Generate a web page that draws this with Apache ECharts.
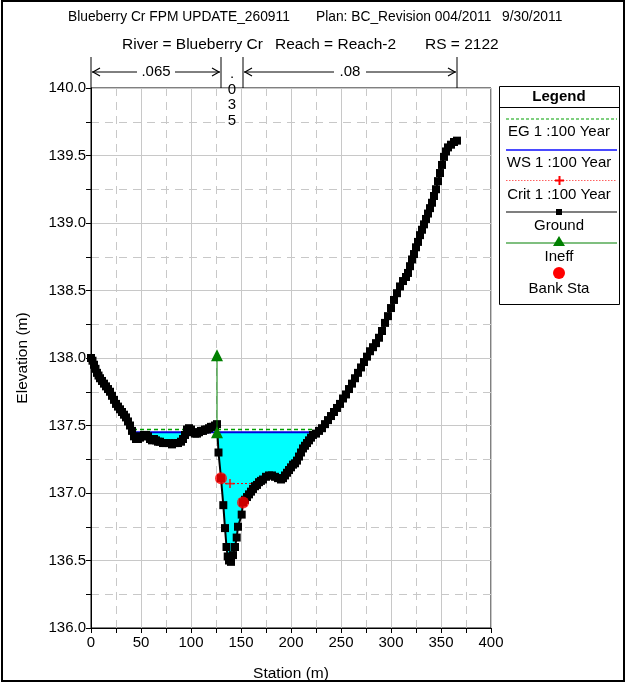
<!DOCTYPE html>
<html><head><meta charset="utf-8">
<script src="https://cdn.jsdelivr.net/npm/echarts@6/dist/echarts.min.js"></script>
<style>html,body{margin:0;padding:0;background:#fff}#c{width:626px;height:682px}</style>
</head><body><div id="c"></div>
<script>
// ---------------- data ----------------
const groundStation = [0,1.5,3,4.5,6,7.5,9,11,13,15,17,19,21,23,25,27,29,31,33,35,37,39,41,43,45,47,49,51,53,55,57,59,61,63,65,67,69,72,75,78,81,84,87,90,92,94,96,98,100,102,104,106,108,110,112,114,116,118,120,122,124,126,127.5,130,132.3,134,135.5,136.7,138,140,142,144,145.7,147,150.7,152,154,156,158,160,162,164,166,168,170,172,175,178,181,184,187,190,192,194,196,198,200,202,204,206,208,210,212,214,216,218,220,222,225,228,231,234,237,240,243,246,249,252,255,258,261,264,267,270,273,276,279,282,285,288,291,294,297,300,303,306,309,312,315,317,319,321,323,325,327,329,331,333,335,337,339,341,343,345,347,349,351,353,355,357,360,363,366];
const groundElevation = [138.00,137.98,137.95,137.92,137.89,137.87,137.85,137.83,137.81,137.79,137.77,137.75,137.72,137.69,137.66,137.64,137.62,137.60,137.58,137.56,137.53,137.50,137.46,137.42,137.40,137.40,137.41,137.42,137.43,137.43,137.42,137.40,137.39,137.40,137.39,137.38,137.38,137.37,137.37,137.37,137.36,137.37,137.37,137.38,137.40,137.43,137.47,137.48,137.47,137.45,137.44,137.44,137.45,137.46,137.46,137.47,137.47,137.48,137.49,137.49,137.50,137.51,137.30,137.11,136.91,136.74,136.60,136.53,136.50,136.49,136.54,136.60,136.67,136.75,136.84,136.93,136.95,136.97,136.99,137.01,137.03,137.05,137.06,137.08,137.09,137.10,137.12,137.13,137.13,137.12,137.11,137.10,137.11,137.13,137.15,137.17,137.19,137.21,137.22,137.24,137.27,137.30,137.33,137.35,137.37,137.39,137.41,137.43,137.44,137.46,137.48,137.51,137.54,137.57,137.60,137.63,137.66,137.70,137.73,137.77,137.81,137.85,137.89,137.93,137.97,138.01,138.05,138.08,138.11,138.15,138.20,138.26,138.31,138.37,138.43,138.48,138.53,138.57,138.60,138.63,138.68,138.73,138.77,138.82,138.86,138.91,138.95,138.99,139.03,139.07,139.11,139.15,139.20,139.25,139.31,139.37,139.43,139.49,139.53,139.56,139.58,139.60,139.61];

const wsElevation = 137.45;          // WS 1 :100 Year
const wsLimits = [42, 229];
const egElevation = 137.47;          // EG 1 :100 Year
const critElevation = 137.07;        // Crit 1 :100 Year
const critLimits = [130, 168];
const critMarkerStations = [139, 168];
const bankStations = [130, 152];
const bankElevations = [137.11, 136.93];
const ineffStation = 126;
const ineffElevations = [137.45, 138.02];
const nBreakStations = [0, 130, 152, 366];
const nValues = ['.065', '.035', '.08'];
const xRange = [0, 400], xStep = 50;
const yRange = [136, 140], yStep = 0.5;

const titleLine1 = ['Blueberry Cr FPM UPDATE_260911', 'Plan: BC_Revision 004/2011', '9/30/2011'];
const titleLine2 = ['River = Blueberry Cr', 'Reach = Reach-2', 'RS = 2122'];
const legendItems = ['EG 1 :100 Year', 'WS 1 :100 Year', 'Crit 1 :100 Year', 'Ground', 'Ineff', 'Bank Sta'];

// ---------------- chart ----------------
const FONT = '"Liberation Sans", Arial, sans-serif';
const ground = groundStation.map((s, i) => [s, groundElevation[i]]);

// water polygon built from ground and WS
const fillPoly = [[wsLimits[0], wsElevation]];
ground.forEach(p => { if (p[0] > wsLimits[0] && p[0] < wsLimits[1]) fillPoly.push([p[0], Math.min(p[1], wsElevation)]); });
fillPoly.push([wsLimits[1], wsElevation]);

const chart = echarts.init(document.getElementById('c'));
const axisCommon = {
  type: 'value',
  nameLocation: 'middle',
  nameTextStyle: { fontSize: 15.5, color: '#000', fontFamily: FONT },
  axisLine: { show: true, onZero: false, lineStyle: { color: '#000', width: 1 } },
  axisTick: { show: true, length: 5, lineStyle: { color: '#000' } },
  minorTick: { show: true, splitNumber: 2, length: 5, lineStyle: { color: '#000' } },
  axisLabel: { fontSize: 15, color: '#000', fontFamily: FONT, margin: 5 },
  splitLine: { show: true, lineStyle: { color: '#c8c8c8', width: 1 } },
  minorSplitLine: { show: true, lineStyle: { color: '#c8c8c8', width: 1, type: [8, 6] } }
};
const plus = 'path://M4,0H6V4H10V6H6V10H4V6H0V4H4Z';

const option = {
  animation: false,
  backgroundColor: '#fff',
  grid: { left: 91, right: 135, top: 88, bottom: 54, outerBoundsMode: 'none', containLabel: false, show: true, borderColor: '#000', borderWidth: 1, backgroundColor: 'transparent' },
  xAxis: Object.assign({}, axisCommon, { min: xRange[0], max: xRange[1], interval: xStep, name: 'Station (m)', nameGap: 38,
    axisLabel: Object.assign({}, axisCommon.axisLabel, { margin: 7 }) }),
  yAxis: Object.assign({}, axisCommon, { min: yRange[0], max: yRange[1], interval: yStep, name: 'Elevation (m)', nameGap: 60,
    axisLabel: Object.assign({}, axisCommon.axisLabel, { formatter: v => v.toFixed(1) }) }),
  series: [
    { type: 'custom', z: 1, silent: true, data: [[wsLimits[0], wsElevation]], encode: { x: 0, y: 1 },
      renderItem: (params, api) => ({ type: 'polygon', shape: { points: fillPoly.map(p => api.coord(p)) }, style: { fill: '#00ffff', stroke: null } }) },
    { type: 'line', z: 3, symbol: 'none', data: [[wsLimits[0], egElevation], [wsLimits[1], egElevation]], lineStyle: { color: '#00a000', width: 1.5, type: [4, 3] } },
    { type: 'line', z: 3, symbol: 'none', data: [[wsLimits[0], wsElevation], [wsLimits[1], wsElevation]], lineStyle: { color: '#0000e0', width: 2 } },
    { type: 'line', z: 3, symbol: 'none', data: [[critLimits[0], critElevation], [critLimits[1], critElevation]], lineStyle: { color: '#ff0000', width: 1, type: [2, 2] } },
    { type: 'scatter', z: 4, symbol: plus, symbolSize: 9, itemStyle: { color: '#ff0000' }, data: critMarkerStations.map(s => [s, critElevation]) },
    { type: 'line', z: 5, data: ground, symbol: 'rect', symbolSize: 8, showSymbol: true, showAllSymbol: true,
      itemStyle: { color: '#000' }, lineStyle: { color: '#000', width: 2 } },
    { type: 'line', z: 6, data: ineffElevations.map(e => [ineffStation, e]), symbol: 'triangle', symbolSize: 12,
      itemStyle: { color: '#008000' }, lineStyle: { color: '#008000', width: 1 } },
    { type: 'scatter', z: 7, symbol: 'circle', symbolSize: 12, itemStyle: { color: '#ff0000' }, data: bankStations.map((s, i) => [s, bankElevations[i]]) }
  ]
};
chart.setOption(option);

// ---------------- decorations (titles, n-values, legend) ----------------
const g = [];
const txt = (x, y, s, opt) => g.push({ type: 'text', x: x, y: y, style: Object.assign({ text: s, fill: '#000', font: '15px ' + FONT, align: 'left', verticalAlign: 'middle' }, opt || {}) });
// frame
g.push({ type: 'rect', shape: { x: 2, y: 1, width: 622, height: 680 }, style: { fill: null, stroke: '#000', lineWidth: 2 }, z: 100 });
// titles
txt(68, 17, titleLine1[0], { font: '13.8px ' + FONT });
txt(316, 17, titleLine1[1], { font: '13.8px ' + FONT });
txt(502, 17, titleLine1[2], { font: '13.8px ' + FONT });
txt(122, 45, titleLine2[0], { font: '15.5px ' + FONT });
txt(275, 45, titleLine2[1], { font: '15.5px ' + FONT });
txt(425, 45, titleLine2[2], { font: '15.5px ' + FONT });
// n values
const topY = chart.convertToPixel({ gridIndex: 0 }, [0, yRange[1]])[1];
const bx = nBreakStations.map(s => chart.convertToPixel({ gridIndex: 0 }, [s, yRange[1]])[0]);
bx.forEach(x => g.push({ type: 'line', shape: { x1: x, y1: topY - 31, x2: x, y2: topY }, style: { stroke: '#000', lineWidth: 1 } }));
const ay = topY - 16;
function arrowSpan(a, b, label, halfW) {
  const m = (a + b) / 2;
  g.push({ type: 'line', shape: { x1: a + 1, y1: ay, x2: m - halfW, y2: ay }, style: { stroke: '#000', lineWidth: 1 } });
  g.push({ type: 'line', shape: { x1: m + halfW, y1: ay, x2: b - 1, y2: ay }, style: { stroke: '#000', lineWidth: 1 } });
  g.push({ type: 'polyline', shape: { points: [[a + 9, ay - 4], [a + 2, ay], [a + 9, ay + 4]] }, style: { stroke: '#000', lineWidth: 1.2, fill: null } });
  g.push({ type: 'polyline', shape: { points: [[b - 9, ay - 4], [b - 2, ay], [b - 9, ay + 4]] }, style: { stroke: '#000', lineWidth: 1.2, fill: null } });
  txt(m, ay, label, { align: 'center' });
}
arrowSpan(bx[0], bx[1], nValues[0], 19);
arrowSpan(bx[2], bx[3], nValues[2], 16);
const midX = (bx[1] + bx[2]) / 2;
nValues[1].split('').forEach((ch, i) => txt(midX, topY - 14 + i * 15.5, ch, { align: 'center' }));
// legend box
const L = { x: 499, y: 86, w: 120, h: 218 };
const cx = L.x + L.w / 2, lx1 = L.x + 7, lx2 = L.x + L.w - 2;
g.push({ type: 'rect', shape: { x: L.x + 0.5, y: L.y + 0.5, width: L.w, height: L.h }, style: { fill: '#fff', stroke: '#000', lineWidth: 1 }, z: 50 });
g.push({ type: 'line', shape: { x1: L.x, y1: 107.5, x2: L.x + L.w, y2: 107.5 }, style: { stroke: '#000', lineWidth: 1 }, z: 51 });
const lz = 52;
const ltxt = (y, s, opt) => g.push({ type: 'text', z: lz, x: cx, y: y, style: Object.assign({ text: s, fill: '#000', font: '15px ' + FONT, align: 'center', verticalAlign: 'middle' }, opt || {}) });
ltxt(97, 'Legend', { font: 'bold 15px ' + FONT });
g.push({ type: 'line', z: lz, shape: { x1: lx1, y1: 119, x2: lx2, y2: 119 }, style: { stroke: '#00a000', lineWidth: 1.2, lineDash: [3, 2] } });
ltxt(132, legendItems[0]);
g.push({ type: 'line', z: lz, shape: { x1: lx1, y1: 150, x2: lx2, y2: 150 }, style: { stroke: '#4a4aff', lineWidth: 2 } });
ltxt(163, legendItems[1]);
g.push({ type: 'line', z: lz, shape: { x1: lx1, y1: 180.5, x2: lx2, y2: 180.5 }, style: { stroke: '#ff6060', lineWidth: 1, lineDash: [1.5, 1.5] } });
g.push({ type: 'polygon', z: lz, shape: { points: [[cx - 0.5, 176], [cx + 1.5, 176], [cx + 1.5, 179.5], [cx + 5, 179.5], [cx + 5, 181.5], [cx + 1.5, 181.5], [cx + 1.5, 185], [cx - 0.5, 185], [cx - 0.5, 181.5], [cx - 4, 181.5], [cx - 4, 179.5], [cx - 0.5, 179.5]] }, style: { fill: '#ff0000' } });
ltxt(195, legendItems[2]);
g.push({ type: 'line', z: lz, shape: { x1: lx1, y1: 212, x2: lx2, y2: 212 }, style: { stroke: '#000', lineWidth: 1.2 } });
g.push({ type: 'rect', z: lz, shape: { x: cx - 3, y: 209, width: 6, height: 6 }, style: { fill: '#000' } });
ltxt(226, legendItems[3]);
g.push({ type: 'line', z: lz, shape: { x1: lx1, y1: 243, x2: lx2, y2: 243 }, style: { stroke: '#008000', lineWidth: 1.2 } });
g.push({ type: 'polygon', z: lz, shape: { points: [[cx, 236], [cx - 6, 246], [cx + 6, 246]] }, style: { fill: '#008000' } });
ltxt(257, legendItems[4]);
g.push({ type: 'circle', z: lz, shape: { cx: cx, cy: 273, r: 6 }, style: { fill: '#ff0000' } });
ltxt(288.5, legendItems[5]);

chart.setOption({ graphic: { elements: g } });
</script>
</body></html>
